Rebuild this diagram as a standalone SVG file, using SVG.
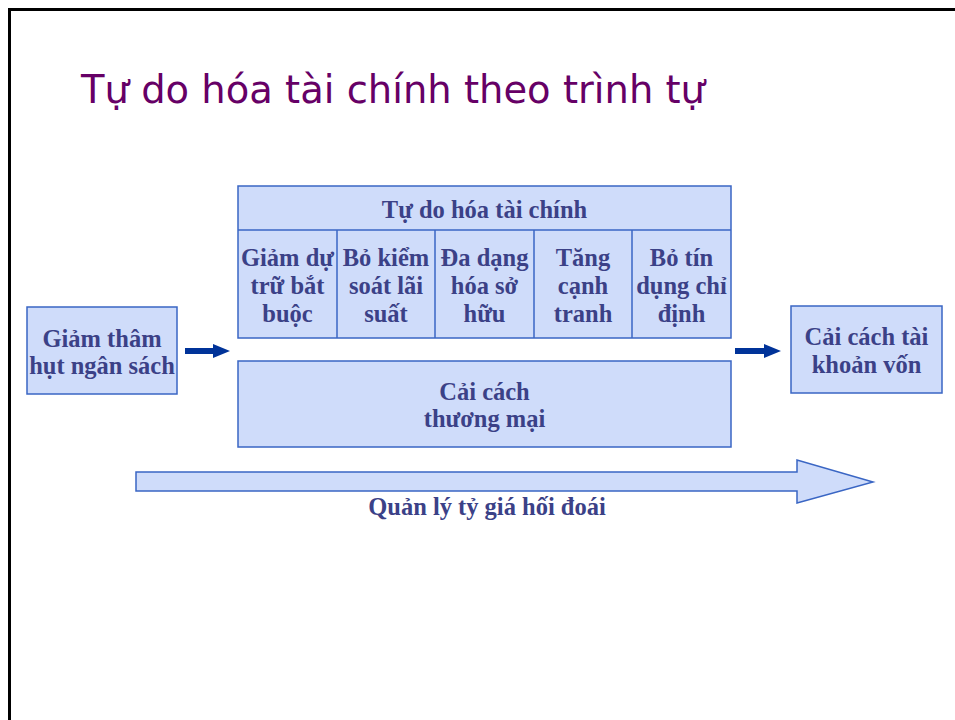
<svg xmlns="http://www.w3.org/2000/svg" width="955" height="720" viewBox="0 0 955 720">
  <style>
    .box { fill: #cfdcfa; stroke: #3a66c4; stroke-width: 1.5; }
    .lbl { font-family: "Liberation Serif", "Times New Roman", serif; font-weight: bold; font-size: 24.5px; fill: #3b4187; text-anchor: middle; }
    .title { font-family: "DejaVu Sans", Tahoma, sans-serif; font-size: 39px; fill: #660066; }
    .arr { fill: #003399; }
  </style>
  <rect x="0" y="0" width="955" height="720" fill="#ffffff"/>
  <path d="M9.5 720 V9.5 H955" fill="none" stroke="#000000" stroke-width="3"/>
  <text class="title" x="81" y="103" textLength="624" lengthAdjust="spacingAndGlyphs">Tự do hóa tài chính theo trình tự</text>

  <g id="budget">
    <rect class="box" x="27" y="307" width="150" height="87"/>
    <text class="lbl" x="102" y="347">Giảm thâm</text>
    <text class="lbl" x="102" y="374">hụt ngân sách</text>
  </g>

  <g id="financial">
    <rect class="box" x="238" y="186" width="493" height="152"/>
    <line x1="238" y1="230" x2="731" y2="230" stroke="#3a66c4" stroke-width="1.5"/>
    <line x1="337" y1="230" x2="337" y2="338" stroke="#3a66c4" stroke-width="1.5"/>
    <line x1="435" y1="230" x2="435" y2="338" stroke="#3a66c4" stroke-width="1.5"/>
    <line x1="534" y1="230" x2="534" y2="338" stroke="#3a66c4" stroke-width="1.5"/>
    <line x1="632" y1="230" x2="632" y2="338" stroke="#3a66c4" stroke-width="1.5"/>
    <text class="lbl" x="484.5" y="218">Tự do hóa tài chính</text>
  </g>
  <g id="col1">
    <text class="lbl" x="287.5" y="266">Giảm dự</text>
    <text class="lbl" x="287.5" y="294">trữ bắt</text>
    <text class="lbl" x="287.5" y="322">buộc</text>
  </g>
  <g id="col2">
    <text class="lbl" x="386" y="266">Bỏ kiểm</text>
    <text class="lbl" x="386" y="294">soát lãi</text>
    <text class="lbl" x="386" y="322">suất</text>
  </g>
  <g id="col3">
    <text class="lbl" x="484.5" y="266">Đa dạng</text>
    <text class="lbl" x="484.5" y="294">hóa sở</text>
    <text class="lbl" x="484.5" y="322">hữu</text>
  </g>
  <g id="col4">
    <text class="lbl" x="583" y="266">Tăng</text>
    <text class="lbl" x="583" y="294">cạnh</text>
    <text class="lbl" x="583" y="322">tranh</text>
  </g>
  <g id="col5">
    <text class="lbl" x="681.5" y="266">Bỏ tín</text>
    <text class="lbl" x="681.5" y="294">dụng chỉ</text>
    <text class="lbl" x="681.5" y="322">định</text>
  </g>

  <g id="trade">
    <rect class="box" x="238" y="361" width="493" height="86"/>
    <text class="lbl" x="484.5" y="400">Cải cách</text>
    <text class="lbl" x="484.5" y="427">thương mại</text>
  </g>

  <g id="capital">
    <rect class="box" x="791" y="306" width="151" height="87"/>
    <text class="lbl" x="866.5" y="345">Cải cách tài</text>
    <text class="lbl" x="866.5" y="373">khoản vốn</text>
  </g>

  <g id="connectors">
    <polygon class="arr" points="185,348 213,348 213,344 230,351 213,358 213,354 185,354"/>
    <polygon class="arr" points="735,348 764,348 764,344 781,351 764,358 764,354 735,354"/>
  </g>

  <g id="exchange">
    <polygon class="box" points="136,472 797,472 797,460 873,482 797,503 797,491 136,491"/>
    <text class="lbl" x="487" y="515">Quản lý tỷ giá hối đoái</text>
  </g>
</svg>
